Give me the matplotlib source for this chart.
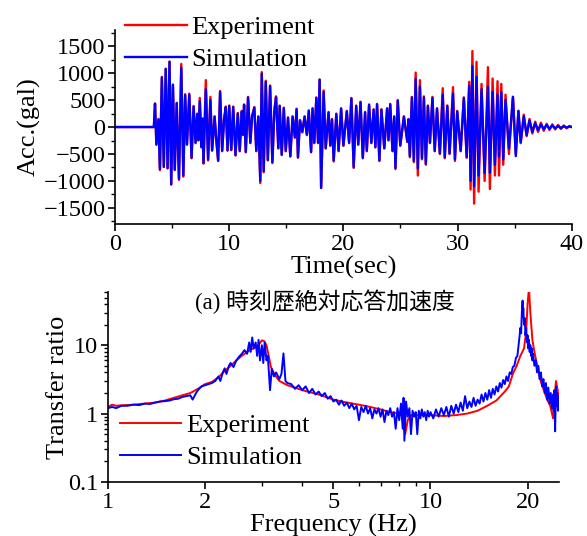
import numpy as np
import matplotlib.pyplot as plt
from matplotlib.ticker import MultipleLocator, LogLocator, FixedLocator, FixedFormatter, NullFormatter

plt.rcParams['font.family'] = ['Liberation Serif', 'Noto Sans CJK JP']

# time history peaks (sec, gal)
t_acc = [0.0, 3.4, 3.5, 3.62, 3.8, 3.93, 4.1, 4.27, 4.44, 4.6, 4.77, 4.92, 5.07, 5.23, 5.4, 5.6,
         5.8, 5.98, 6.14, 6.3, 6.5, 6.7, 6.88, 7.05, 7.2, 7.3, 7.42, 7.58, 7.66, 7.75, 7.95, 8.15,
         8.35, 8.5, 8.72, 8.85, 9.03, 9.2, 9.38, 9.55, 9.7, 9.85, 10.0, 10.18, 10.35, 10.55, 10.75,
         10.92, 11.1, 11.2, 11.3, 11.45, 11.65, 11.85, 12.0, 12.2, 12.37, 12.55, 12.72, 12.85, 13.02,
         13.2, 13.38, 13.58, 13.78, 13.95, 14.1, 14.3, 14.42, 14.6, 14.78, 14.95, 15.15, 15.35,
         15.55, 15.75, 15.9, 16.02, 16.2, 16.4, 16.6, 16.8, 16.97, 17.17, 17.3, 17.45, 17.63, 17.78,
         17.92, 18.05, 18.27, 18.45, 18.7, 18.85, 19.0, 19.15, 19.38, 19.58, 19.8, 20.0, 20.3, 20.5,
         20.7, 20.9, 21.12, 21.3, 21.5, 21.7, 21.9, 22.05, 22.25, 22.45, 22.65, 22.8, 22.95, 23.15,
         23.33, 23.58, 23.83, 23.95, 24.1, 24.3, 24.45, 24.56, 24.76, 24.98, 25.3, 25.6, 25.7, 25.82,
         26.0, 26.17, 26.33, 26.52, 26.7, 26.88, 27.05, 27.22, 27.4, 27.58, 27.8, 28.0, 28.2, 28.45,
         28.7, 28.88, 29.1, 29.3, 29.6, 29.77, 29.97, 30.27, 30.55, 30.8, 31.02, 31.14, 31.3, 31.45,
         31.66, 31.84, 32.1, 32.37, 32.66, 32.83, 33.07, 33.27, 33.5, 33.63, 33.83, 34.0, 34.2, 34.5,
         34.85, 35.1, 35.33, 35.53, 35.8, 36.05, 36.3, 36.55, 36.8, 37.05, 37.3, 37.55, 37.8, 38.05,
         38.3, 38.55, 38.8, 39.05, 39.3, 39.55, 39.8, 40.0]
acc_exp = [0, 0, 440, -330, 150, -800, 930, -740, 1080, -770, 1215, -1070, 790, -800, 450, -980,
           1170, -920, 610, -330, 620, -580, 390, -300, 250, -250, 540, -380, 160, -680, 870, -620,
           560, -440, 200, -200, -630, 670, -450, 150, 380, -440, 400, -430, 380, -530, 260,
           -450, 300, -150, 420, -470, 560, -300, 200, 370, -450, 200, -1040, 1020, -840,
           860, -620, 770, -670, 300, 570, -400, 400, -520, 360, -450, 180, -550,
           200, -200, 340, -570, 130, -100, 200, -150, 310, -470, 350, -300, 550, -300,
           880, -1130, 680, -400, 280, -350, 150, -640, 250, -450, 350, -350, 300, -300,
           540, -760, 400, -330, 470, -580, 280, -450, 420, -300, 330, -380, 430, -630,
           330, -400, 350, -250, 430, -450, 200, -780, 500, -350, 200, -280, 150, -560,
           560, -650, 1010, -900, 870, -600, 570, -700, 400, -300, 560, -450, 350, -500,
           720, -580, 400, -500, 740, -630, 300, -450, 550, -570, 840, -1160, 1410, -1420,
           1210, -1200, 800, -1000, 1110, -1150, 900, -900, 850, -900, 800, -700, 600, -500,
           560, -500, 300, -300, 230, -170, 150, -120, 100, -90, 80, -70, 60, -55,
           50, -45, 40, -35, 30, -25, 20, 0]
acc_sim = [0, 0, 430, -320, 140, -780, 920, -740, 1080, -760, 1210, -1060, 780, -790, 440, -960,
           1100, -900, 590, -320, 600, -570, 380, -290, 240, -240, 480, -370, 150, -660, 700, -600,
           500, -430, 190, -190, -620, 650, -440, 140, 370, -430, 390, -420, 370, -520, 250,
           -440, 290, -140, 410, -460, 550, -290, 190, 360, -440, 190, -1000, 990, -820,
           840, -610, 760, -650, 290, 550, -390, 390, -510, 350, -440, 170, -540,
           190, -190, 330, -560, 120, -90, 190, -140, 300, -460, 340, -290, 540, -290,
           880, -1130, 650, -390, 270, -340, 140, -620, 240, -440, 340, -340, 290, -290,
           530, -740, 390, -320, 460, -570, 270, -440, 410, -290, 320, -370, 420, -620,
           320, -390, 340, -240, 420, -440, 190, -760, 490, -340, 190, -270, 140, -540,
           550, -630, 890, -770, 750, -580, 550, -680, 390, -290, 540, -440, 340, -490,
           600, -560, 390, -490, 620, -600, 290, -440, 540, -560, 770, -1000, 1130, -1100,
           930, -900, 700, -850, 750, -850, 650, -700, 600, -550, 650, -600, 500, -400,
           560, -540, 300, -280, 200, -150, 120, -90, 70, -60, 50, -40, 40, -30,
           30, -25, 20, -20, 15, -10, 10, 0]

# transfer ratio
f_exp = [1.0, 1.03, 1.06, 1.1, 1.2, 1.3, 1.4, 1.5, 1.6, 1.7, 1.8, 1.9, 2.0, 2.1, 2.2, 2.3, 2.4,
         2.5, 2.6, 2.7, 2.8, 2.9, 2.95, 3.0, 3.05, 3.1, 3.15, 3.2, 3.3, 3.4, 3.6, 3.8, 4.0, 4.5,
         5.0, 5.5, 6.0, 6.5, 7.0, 7.5, 8.0, 8.2, 8.35, 8.5, 8.7, 9.0, 9.5, 10.0, 11.0, 12.0, 13.0,
         14.0, 15.0, 16.0, 17.0, 17.5, 18.0, 18.5, 19.0, 19.5, 19.8, 20.0, 20.2, 20.4, 20.7, 21.0,
         21.5, 22.0, 23.0, 23.5, 24.0, 24.2, 24.5, 24.8, 25.0]
tr_exp = [1.25, 1.35, 1.3, 1.32, 1.35, 1.4, 1.45, 1.55, 1.7, 1.85, 2.0, 2.3, 2.7, 2.9, 3.4, 4.2,
          5.0, 6.0, 7.0, 8.0, 8.8, 9.5, 10.5, 11.8, 11.5, 10.0, 7.0, 4.8, 3.6, 3.0, 2.6, 2.4, 2.2,
          1.9, 1.6, 1.45, 1.35, 1.25, 1.15, 1.05, 1.0, 0.9, 0.5, 0.8, 0.95, 0.95, 0.95, 0.95, 0.92,
          0.95, 1.0, 1.1, 1.3, 1.55, 2.1, 2.5, 3.8, 5.0, 7.0, 9.0, 16.0, 40.0, 70.0, 30.0, 12.0,
          8.0, 4.6, 2.9, 1.6, 1.3, 0.85, 1.5, 3.0, 2.2, 1.6]
f_sim = [1.0, 1.03, 1.06, 1.1, 1.15, 1.2, 1.25, 1.3, 1.35, 1.4, 1.45, 1.5, 1.55, 1.6, 1.65, 1.7,
         1.75, 1.8, 1.83, 1.87, 1.9, 1.95, 2.0, 2.05, 2.1, 2.15, 2.2, 2.23, 2.27, 2.3, 2.33, 2.37,
         2.4, 2.45, 2.5, 2.55, 2.6, 2.65, 2.7, 2.74, 2.77, 2.8, 2.83, 2.87, 2.9, 2.93, 2.96, 3.0,
         3.03, 3.06, 3.1, 3.13, 3.18, 3.22, 3.27, 3.32, 3.4, 3.45, 3.5, 3.55, 3.6, 3.7, 3.8, 3.9,
         4.0, 4.1, 4.2, 4.3, 4.4, 4.5, 4.6, 4.7, 4.8, 4.9, 5.0, 5.1, 5.2, 5.3, 5.4, 5.5, 5.6, 5.7,
         5.8, 5.9, 6.0, 6.1, 6.2, 6.3, 6.4, 6.5, 6.6, 6.7, 6.8, 6.9, 7.0, 7.1, 7.2, 7.3, 7.4, 7.5,
         7.6, 7.7, 7.8, 7.9, 8.0, 8.1, 8.2, 8.25, 8.3, 8.4, 8.5, 8.6, 8.7, 8.8, 8.9, 9.0, 9.1, 9.2,
         9.3, 9.4, 9.5, 9.6, 9.7, 9.8, 9.9, 10.0, 10.2, 10.4, 10.6, 10.8, 11.0, 11.2, 11.4, 11.6,
         11.8, 12.0, 12.2, 12.4, 12.6, 12.8, 13.0, 13.2, 13.4, 13.6, 13.8, 14.0, 14.2, 14.4, 14.6,
         14.8, 15.0, 15.2, 15.4, 15.6, 15.8, 16.0, 16.2, 16.4, 16.6, 16.8, 17.0, 17.2, 17.4, 17.6,
         17.8, 18.0, 18.2, 18.4, 18.6, 18.8, 18.9, 19.0, 19.1, 19.2, 19.3, 19.35, 19.4, 19.5, 19.6,
         19.7, 19.8, 19.9, 20.0, 20.1, 20.2, 20.3, 20.4, 20.5, 20.6, 20.7, 20.8, 21.0, 21.2, 21.4,
         21.6, 21.8, 22.0, 22.2, 22.4, 22.6, 22.8, 23.0, 23.2, 23.4, 23.6, 23.8, 24.0, 24.1, 24.2,
         24.35, 24.5, 24.6, 24.7, 24.85, 25.0]
tr_sim = [1.2, 1.25, 1.2, 1.3, 1.3, 1.35, 1.33, 1.4, 1.38, 1.45, 1.5, 1.52, 1.55, 1.62, 1.65, 1.75,
          1.8, 1.85, 1.6, 1.95, 2.2, 2.5, 2.6, 2.7, 2.8, 3.0, 3.5, 3.0, 4.0, 4.6, 3.8, 5.0,
          5.5, 4.8, 6.0, 6.8, 7.5, 8.5, 7.5, 11.0, 8.0, 13.0, 9.0, 11.0, 7.0, 12.0, 6.0, 10.0,
          5.5, 11.0, 6.0, 7.0, 2.2, 4.5, 3.5, 4.0, 3.2, 3.8, 7.6, 3.0, 2.8, 2.7, 2.3, 2.6,
          2.2, 2.5, 2.0, 2.3, 1.9, 2.1, 1.8, 2.0, 1.65, 1.8, 1.5, 1.6, 1.35, 1.55, 1.3, 1.45, 1.2, 1.4,
          1.15, 1.3, 0.8, 1.25, 1.05, 1.3, 1.0, 1.2, 0.85, 1.15, 1.0, 1.2, 0.9, 1.15, 0.75, 1.1, 0.95, 1.2,
          0.9, 1.05, 0.6, 1.2, 0.8, 1.4, 0.6, 1.7, 0.4, 1.5, 0.9, 1.2, 0.5, 1.1, 0.9, 1.05, 0.5, 1.1,
          0.85, 1.15, 0.9, 1.05, 0.8, 1.1, 0.9, 1.05, 0.85, 1.15, 0.9, 1.2, 0.95, 1.25, 0.9, 1.3,
          1.0, 1.35, 1.05, 1.45, 1.1, 1.8, 1.2, 1.5, 1.25, 1.7, 1.3, 1.6, 1.4, 1.9, 1.5,
          2.0, 1.6, 2.2, 1.7, 2.3, 1.9, 2.5, 2.1, 2.8, 2.4, 3.1, 2.7, 3.5, 3.0, 4.0,
          3.8, 4.8, 5.0, 6.5, 7.0, 11.0, 14.0, 18.0, 15.0, 30.0, 45.0, 28.0, 35.0, 20.0, 25.0,
          14.0, 18.0, 11.0, 14.0, 9.0, 12.0, 8.0, 10.0, 7.0, 9.0, 6.0, 7.5, 5.0, 6.0, 4.0,
          5.0, 3.2, 4.0, 2.5, 3.2, 2.0, 2.8, 1.6, 2.4, 1.4, 2.0, 1.2, 1.9, 1.1, 2.2,
          0.55, 2.5, 1.3, 2.0, 1.1, 1.8]

fig = plt.figure(figsize=(5.87, 5.36), dpi=100)
ax1 = fig.add_axes([0.196, 0.582, 0.778, 0.362])
ax2 = fig.add_axes([0.184, 0.101, 0.768, 0.354])

# top: time history
ax1.plot(t_acc, acc_exp, color='#ff0000', lw=1.7, label='Experiment')
ax1.plot(t_acc, acc_sim, color='#0000ff', lw=1.7, label='Simulation')
ax1.set_xlim(0, 40)
ax1.set_ylim(-1800, 1800)
ax1.xaxis.set_major_locator(MultipleLocator(10))
ax1.xaxis.set_minor_locator(MultipleLocator(5))
ax1.yaxis.set_major_locator(MultipleLocator(500))
ax1.yaxis.set_minor_locator(MultipleLocator(250))
ax1.set_xlabel('Time(sec)', fontsize=19, labelpad=1)
ax1.set_ylabel('Acc.(gal)', fontsize=19, labelpad=2)
ax1.legend(loc='upper left', bbox_to_anchor=(0.022, 1.075), frameon=False, fontsize=19,
           handlelength=2.35, handletextpad=0.15, labelspacing=0.32, borderpad=0, borderaxespad=0)

# bottom: transfer ratio
ax2.plot(f_exp, tr_exp, color='#ff0000', lw=1.4, label='Experiment')
ax2.plot(f_sim, tr_sim, color='#0000ff', lw=1.4, label='Simulation')
ax2.set_xscale('log')
ax2.set_yscale('log')
ax2.set_xlim(1, 25)
ax2.set_ylim(0.1, 60)
ax2.xaxis.set_major_locator(FixedLocator([1, 2, 5, 10, 20]))
ax2.xaxis.set_major_formatter(FixedFormatter(['1', '2', '5', '10', '20']))
ax2.xaxis.set_minor_locator(LogLocator(base=10, subs=np.arange(2, 10)))
ax2.xaxis.set_minor_formatter(NullFormatter())
ax2.yaxis.set_major_locator(FixedLocator([0.1, 1, 10]))
ax2.yaxis.set_major_formatter(FixedFormatter(['0.1', '1', '10']))
ax2.yaxis.set_minor_locator(LogLocator(base=10, subs=np.arange(2, 10)))
ax2.yaxis.set_minor_formatter(NullFormatter())
ax2.set_xlabel('Frequency (Hz)', fontsize=19, labelpad=1)
ax2.set_ylabel('Transfer ratio', fontsize=19, labelpad=-1)
ax2.legend(loc='upper left', bbox_to_anchor=(0.027, 0.36), frameon=False, fontsize=19,
           handlelength=2.3, handletextpad=0.2, labelspacing=0.33, borderpad=0, borderaxespad=0)

for ax in (ax1, ax2):
    ax.spines['top'].set_visible(False)
    ax.spines['right'].set_visible(False)
    ax.spines['left'].set_linewidth(1.2)
    ax.spines['bottom'].set_linewidth(1.2)
    ax.tick_params(which='major', direction='out', length=5, width=1.2, labelsize=17.5, pad=2)
    ax.tick_params(which='minor', direction='out', length=3, width=1.0)

fig.text(0.554, 0.437, '(a) 時刻歴絶対応答加速度', ha='center', va='center', fontsize=16.5)

fig.savefig('out.png', dpi=100)
